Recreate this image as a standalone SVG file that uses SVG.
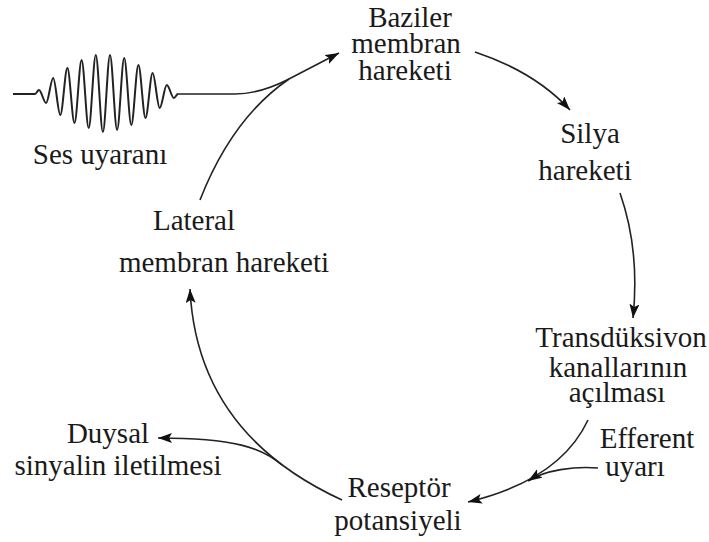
<svg xmlns="http://www.w3.org/2000/svg" width="709" height="542" viewBox="0 0 709 542">
<defs>
<style>
.ln{fill:none;stroke:#222;stroke-width:1.6}
.wave{fill:none;stroke:#222;stroke-width:2}
</style>
<marker id="ah" markerUnits="userSpaceOnUse" markerWidth="16" markerHeight="12" refX="14" refY="5" orient="auto">
<path d="M0,0 L14,5 L0,10 L3,5 z" fill="#111"/>
</marker>
</defs>
<rect width="709" height="542" fill="#fff"/>

<g id="connectors">
<path class="wave" d="M13,94 L35,94 C36.5,94 37.5,90 39,90 C41.4,90 43.7,103 46.1,103 C48.5,103 50.8,78 53.2,78 C55.6,78 57.9,115 60.3,115 C62.7,115 65,68 67.4,68 C69.8,68 72.1,123 74.5,123 C76.9,123 79.2,60 81.6,60 C84,60 86.3,128 88.7,128 C91.1,128 93.4,55 95.8,55 C98.2,55 100.5,132 102.9,132 C105.3,132 107.6,55 110,55 C112.4,55 114.7,130 117.1,130 C119.5,130 121.8,58 124.2,58 C126.6,58 128.9,125 131.3,125 C133.7,125 136,65 138.4,65 C140.8,65 143.1,118 145.5,118 C147.9,118 150.2,73 152.6,73 C155,73 157.3,108 159.7,108 C162.1,108 164.4,85 166.8,85 C169.2,85 171.5,98 173.9,98 C175.3,98 176.6,94 178,94"/>
<path class="ln" d="M178,94 L235,94 C255,94 271,88 287,80 L339,53" marker-end="url(#ah)"/>
<path class="ln" d="M200,200 Q232,118 289,79"/>
<path class="ln" d="M475,52 Q535,72 570,110" marker-end="url(#ah)"/>
<path class="ln" d="M620,193 Q640,250 633,318" marker-end="url(#ah)"/>
<path class="ln" d="M588,420 Q560,480 468,502" marker-end="url(#ah)"/>
<path class="ln" d="M598,468 C575,466 545,470 528,481" marker-end="url(#ah)"/>
<path class="ln" d="M342,500 C255,460 195,395 190,289" marker-end="url(#ah)"/>
<path class="ln" d="M282,465 C262,448 235,438 158,438" marker-end="url(#ah)"/>
</g>

<g id="node-baziler">
<text font-family="Liberation Serif, Times New Roman, serif" font-size="29" fill="#1a1a1a" text-anchor="middle" x="410" y="27">Baziler</text>
<text font-family="Liberation Serif, Times New Roman, serif" font-size="29" fill="#1a1a1a" text-anchor="middle" x="406" y="53">membran</text>
<text font-family="Liberation Serif, Times New Roman, serif" font-size="29" fill="#1a1a1a" text-anchor="middle" x="405" y="80">hareketi</text>
</g>
<g id="node-silya">
<text font-family="Liberation Serif, Times New Roman, serif" font-size="29" fill="#1a1a1a" text-anchor="middle" x="590" y="143">Silya</text>
<text font-family="Liberation Serif, Times New Roman, serif" font-size="29" fill="#1a1a1a" text-anchor="middle" x="585" y="180">hareketi</text>
</g>
<g id="node-transduksiyon">
<text font-family="Liberation Serif, Times New Roman, serif" font-size="29" fill="#1a1a1a" text-anchor="middle" x="621" y="347">Transd&#252;ksivon</text>
<text font-family="Liberation Serif, Times New Roman, serif" font-size="29" fill="#1a1a1a" text-anchor="middle" x="618" y="377">kanallar&#305;n&#305;n</text>
<text font-family="Liberation Serif, Times New Roman, serif" font-size="29" fill="#1a1a1a" text-anchor="middle" x="617" y="402">a&#231;&#305;lmas&#305;</text>
</g>
<g id="node-efferent">
<text font-family="Liberation Serif, Times New Roman, serif" font-size="29" fill="#1a1a1a" text-anchor="middle" x="647" y="448">Efferent</text>
<text font-family="Liberation Serif, Times New Roman, serif" font-size="29" fill="#1a1a1a" text-anchor="middle" x="635" y="476">uyar&#305;</text>
</g>
<g id="node-reseptor">
<text font-family="Liberation Serif, Times New Roman, serif" font-size="29" fill="#1a1a1a" text-anchor="middle" x="399" y="497">Resept&#246;r</text>
<text font-family="Liberation Serif, Times New Roman, serif" font-size="29" fill="#1a1a1a" text-anchor="middle" x="398" y="530">potansiyeli</text>
</g>
<g id="node-duysal">
<text font-family="Liberation Serif, Times New Roman, serif" font-size="29" fill="#1a1a1a" text-anchor="middle" x="108" y="443">Duysal</text>
<text font-family="Liberation Serif, Times New Roman, serif" font-size="29" fill="#1a1a1a" text-anchor="middle" x="118" y="475">sinyalin iletilmesi</text>
</g>
<g id="node-lateral">
<text font-family="Liberation Serif, Times New Roman, serif" font-size="29" fill="#1a1a1a" text-anchor="middle" x="194" y="230">Lateral</text>
<text font-family="Liberation Serif, Times New Roman, serif" font-size="29" fill="#1a1a1a" text-anchor="middle" x="224" y="272">membran hareketi</text>
</g>
<g id="node-ses">
<text font-family="Liberation Serif, Times New Roman, serif" font-size="29" fill="#1a1a1a" text-anchor="middle" x="100" y="164">Ses uyaran&#305;</text>
</g>
</svg>
